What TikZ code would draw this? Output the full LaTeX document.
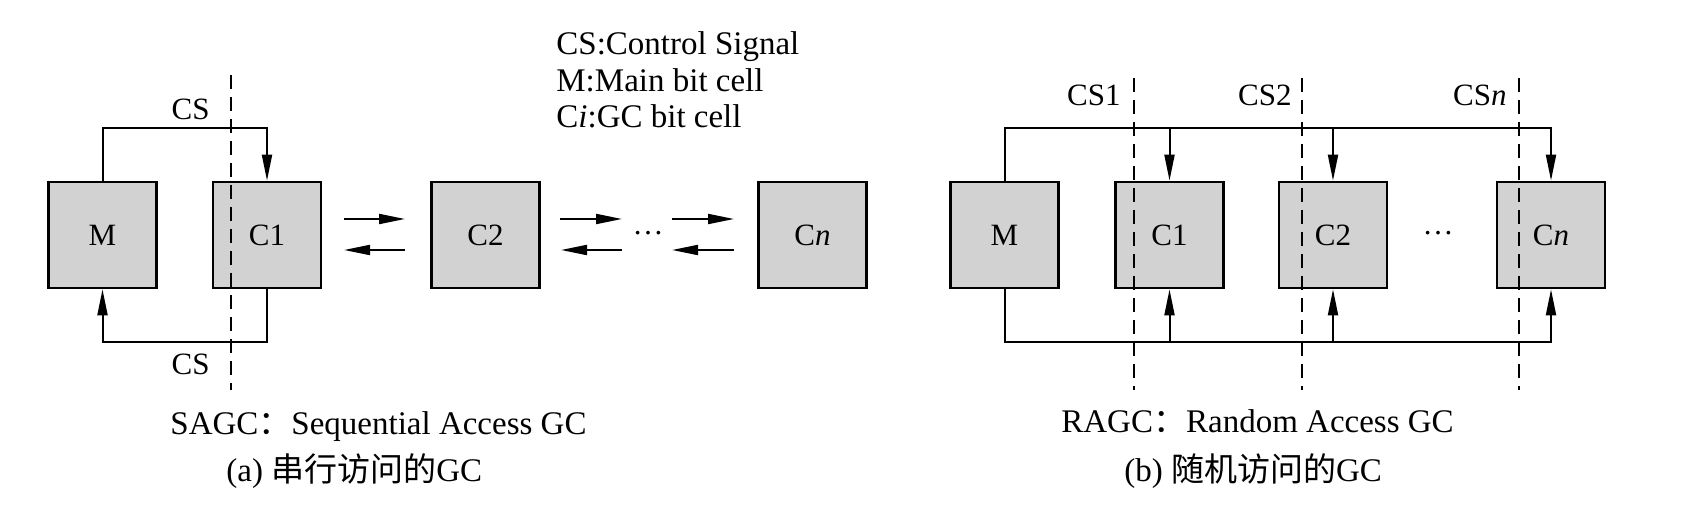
\documentclass[tikz,border=0pt]{standalone}
\usepackage{fontspec}
\setmainfont{Liberation Serif}
\newfontfamily\cjk{Noto Sans CJK SC}
\usetikzlibrary{arrows.meta}
\definecolor{boxgray}{RGB}{210,210,210}
\begin{document}
\begin{tikzpicture}[x=0.5pt,y=-0.5pt,
  cell/.style={draw, line width=1.35pt, fill=boxgray, minimum width=54pt, minimum height=53pt, inner sep=0pt, font=\fontsize{15.5}{18}\selectfont},
  wire/.style={line width=1pt},
  arr/.style={wire, -{Triangle[length=13pt,width=5pt]}},
  cut/.style={line width=1pt, dash pattern=on 7pt off 4pt},
  lbl/.style={font=\fontsize{15.5}{18}\selectfont, inner sep=0pt},
  captext/.style={font=\fontsize{16.5}{20}\selectfont, inner sep=0pt, anchor=base west},
]
\useasboundingbox (0,0) rectangle (1692,512);
\fill[white] (0,0) rectangle (1692,512);

% ---------- (a) sequential access ----------
\node[cell] (lM)  at (102.5,235) {M};
\node[cell] (lC1) at (267,235) {C1};
\node[cell] (lC2) at (485.5,235) {C2};
\node[cell] (lCn) at (812.5,235) {C\textit{n}};

\coordinate (ltop) at (0,128);
\coordinate (lbot) at (0,342);
\draw[arr] (lM.north) -- (lM.north |- ltop) -| (lC1.north);
\draw[arr] (lC1.south) -- (lC1.south |- lbot) -| (lM.south);

\coordinate (r1s) at (344,219); \coordinate (r1e) at (405,219);
\coordinate (l1s) at (405,250); \coordinate (l1e) at (344,250);
\coordinate (r2s) at (560,219); \coordinate (r2e) at (622,219);
\coordinate (l2s) at (622,250); \coordinate (l2e) at (561,250);
\coordinate (r3s) at (672,219); \coordinate (r3e) at (734,219);
\coordinate (l3s) at (734,250); \coordinate (l3e) at (672,250);
\draw[arr] (r1s) -- (r1e);
\draw[arr] (l1s) -- (l1e);
\draw[arr] (r2s) -- (r2e);
\draw[arr] (l2s) -- (l2e);
\draw[arr] (r3s) -- (r3e);
\draw[arr] (l3s) -- (l3e);
\node[lbl] (ldots) at (648,233) {…};

\draw[cut] (231,75) -- (231,390);
\node[lbl, anchor=base east] (lcsa) at (210,120) {CS};
\node[lbl, anchor=base east] (lcsb) at (210,375) {CS};

\node[captext] (leg1) at (556,55) {CS:Control Signal};
\node[captext] (leg2) at (556,92) {M:Main bit cell};
\node[captext] (leg3) at (556,128) {C\textit{i}:GC bit cell};

\node[captext] (capa1) at (170,435) {SAGC{\cjk ：}Sequential Access GC};
\node[captext] (capa2) at (226,482) {(a) {\cjk 串行访问的}GC};

% ---------- (b) random access ----------
\node[cell] (rM)  at (1004.5,235) {M};
\node[cell] (rC1) at (1169.5,235) {C1};
\node[cell] (rC2) at (1333,235) {C2};
\node[cell] (rCn) at (1551,235) {C\textit{n}};
\node[lbl] (rdots) at (1438,233) {…};

\coordinate (rtop) at (0,128);
\coordinate (rbot) at (0,342);
\draw[arr] (rM.north) -- (rM.north |- rtop) -| (rCn.north);
\draw[arr] (rC1.north |- rtop) -- (rC1.north);
\draw[arr] (rC2.north |- rtop) -- (rC2.north);
\draw[arr] (rM.south) -- (rM.south |- rbot) -| (rCn.south);
\draw[arr] (rC1.south |- rbot) -- (rC1.south);
\draw[arr] (rC2.south |- rbot) -- (rC2.south);

\draw[cut] (1134,78) -- (1134,390);
\draw[cut] (1302,78) -- (1302,390);
\draw[cut] (1519,78) -- (1519,390);
\node[lbl, anchor=base east] (rcs1) at (1121,106) {CS1};
\node[lbl, anchor=base east] (rcs2) at (1292,106) {CS2};
\node[lbl, anchor=base east] (rcsn) at (1507,106) {CS\textit{n}};

\node[captext] (capb1) at (1061,433) {RAGC{\cjk ：}Random Access GC};
\node[captext] (capb2) at (1124,482) {(b) {\cjk 随机访问的}GC};
\end{tikzpicture}
\end{document}
